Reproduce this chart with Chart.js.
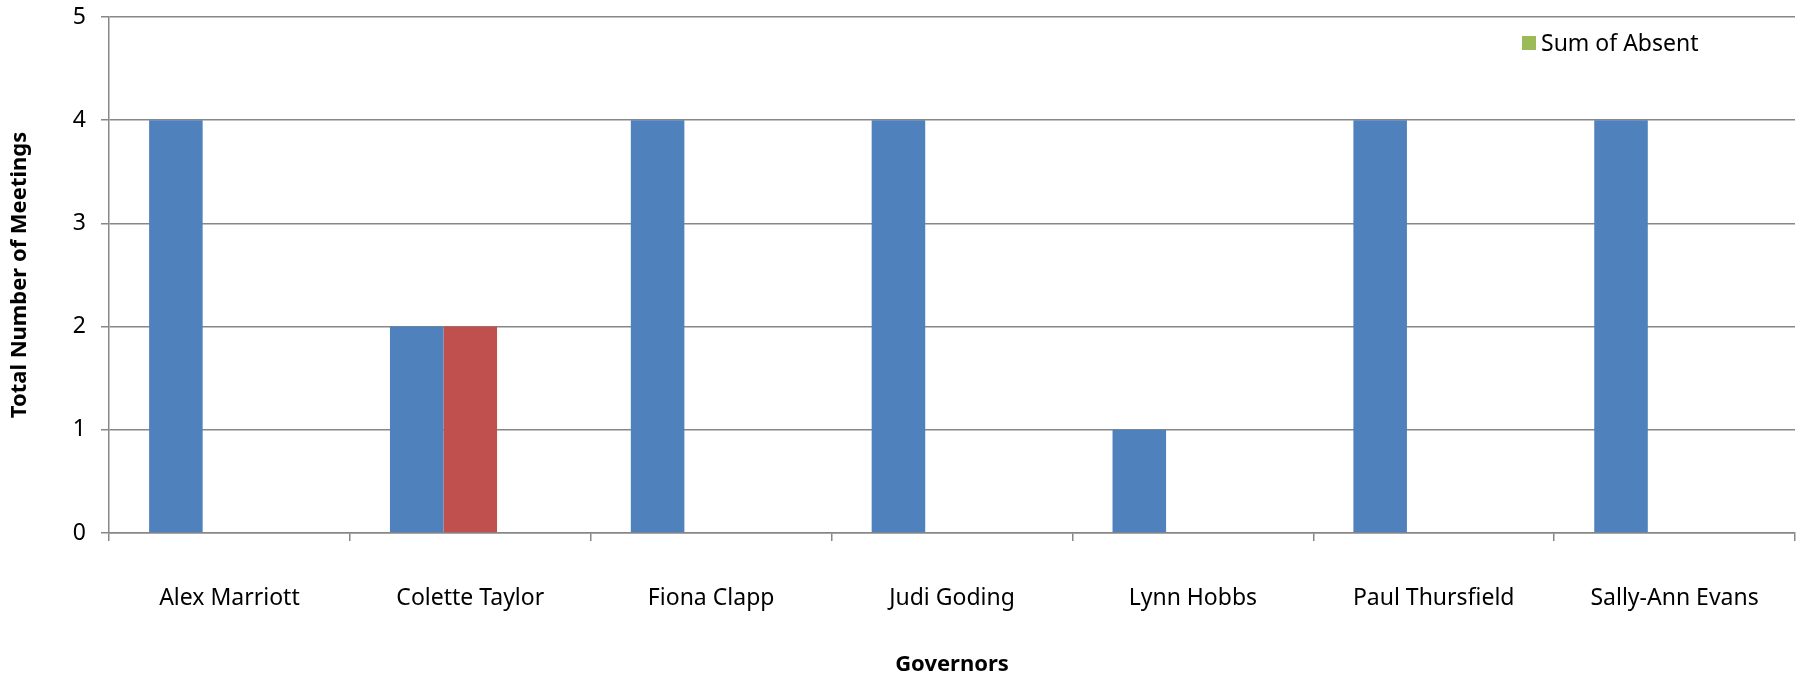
<!DOCTYPE html>
<html>
<head>
<meta charset="utf-8">
<script src="https://cdn.jsdelivr.net/npm/chart.js@4"></script>
<style>
  html, body { margin: 0; padding: 0; background: #fff; }
  #wrap { width: 1798px; height: 682px; }
</style>
</head>
<body>
<div id="wrap"><canvas id="chart1"></canvas></div>
<script>
// Data
const governors = ['Alex Marriott', 'Colette Taylor', 'Fiona Clapp', 'Judi Goding', 'Lynn Hobbs', 'Paul Thursfield', 'Sally-Ann Evans'];
const sumAttended = [4, 2, 4, 4, 1, 4, 4];
const sumApologies = [0, 2, 0, 0, 0, 0, 0];
const sumAbsent = [0, 0, 0, 0, 0, 0, 0];
const yTicks = [0, 1, 2, 3, 4, 5];

const FONT = "'Noto Sans', sans-serif";
const GRID = '#878787';

// only the "Sum of Absent" entry is shown, inside the plot at top right
const legendInside = {
    id: 'legendInside',
    afterDraw(chart) {
        const ds = chart.data.datasets[2];
        const c = chart.ctx;
        const area = chart.chartArea;
        const x = area.right - 273;
        const y = area.top + 26;
        c.save();
        c.fillStyle = ds.backgroundColor;
        c.fillRect(x, y - 7, 14, 14);
        c.fillStyle = '#000';
        c.font = '23px ' + FONT;
        c.textBaseline = 'middle';
        c.fillText(ds.label, x + 19, y + 1);
        c.restore();
    }
};

const ctx1 = document.getElementById('chart1').getContext('2d');
const chart = new Chart(ctx1, {
    type: 'bar',
    data: {
        labels: governors,
        datasets: [{
            label: 'Sum of Attended',
            data: sumAttended,
            backgroundColor: '#4F81BD'
        }, {
            label: 'Sum of Apologies',
            data: sumApologies,
            backgroundColor: '#C0504D'
        }, {
            label: 'Sum of Absent',
            data: sumAbsent,
            backgroundColor: '#9BBB59'
        }]
    },
    options: {
        responsive: true,
        maintainAspectRatio: false,
        animation: false,
        layout: {padding: {top: 17, right: 3, left: 0, bottom: 0}},
        datasets: {bar: {categoryPercentage: 0.667, barPercentage: 1}},
        plugins: {
            legend: {display: false},
            tooltip: {enabled: false}
        },
        scales: {
            x: {
                offset: true,
                grid: {display: true, drawOnChartArea: false, offset: true, color: GRID, lineWidth: 1.5, tickLength: 8},
                border: {color: GRID, width: 1.5},
                ticks: {color: '#000', font: {family: FONT, size: 23}, padding: 44, maxRotation: 0},
                title: {
                    display: true,
                    text: 'Governors',
                    color: '#000',
                    font: {family: FONT, size: 22, weight: 'bold'},
                    padding: {top: 0, bottom: 4}
                },
                afterFit: function(scale) {
                    scale.height = 149;
                    scale.paddingLeft = 0;
                    scale.paddingRight = 0;
                }
            },
            y: {
                min: 0,
                max: 5,
                afterBuildTicks: function(scale) { scale.ticks = yTicks.map(v => ({value: v})); },
                grid: {color: GRID, lineWidth: 1.5, tickLength: 8},
                border: {color: GRID, width: 1.5},
                ticks: {color: '#000', font: {family: FONT, size: 23}, padding: 15},
                title: {
                    display: true,
                    text: 'Total Number of Meetings',
                    color: '#000',
                    font: {family: FONT, size: 22, weight: 'bold'},
                    padding: {top: 7, bottom: 0}
                },
                afterFit: function(scale) {
                    scale.width = 109;
                    scale.paddingTop = 0;
                    scale.paddingBottom = 0;
                }
            }
        }
    },
    plugins: [legendInside]
});
</script>
</body>
</html>
